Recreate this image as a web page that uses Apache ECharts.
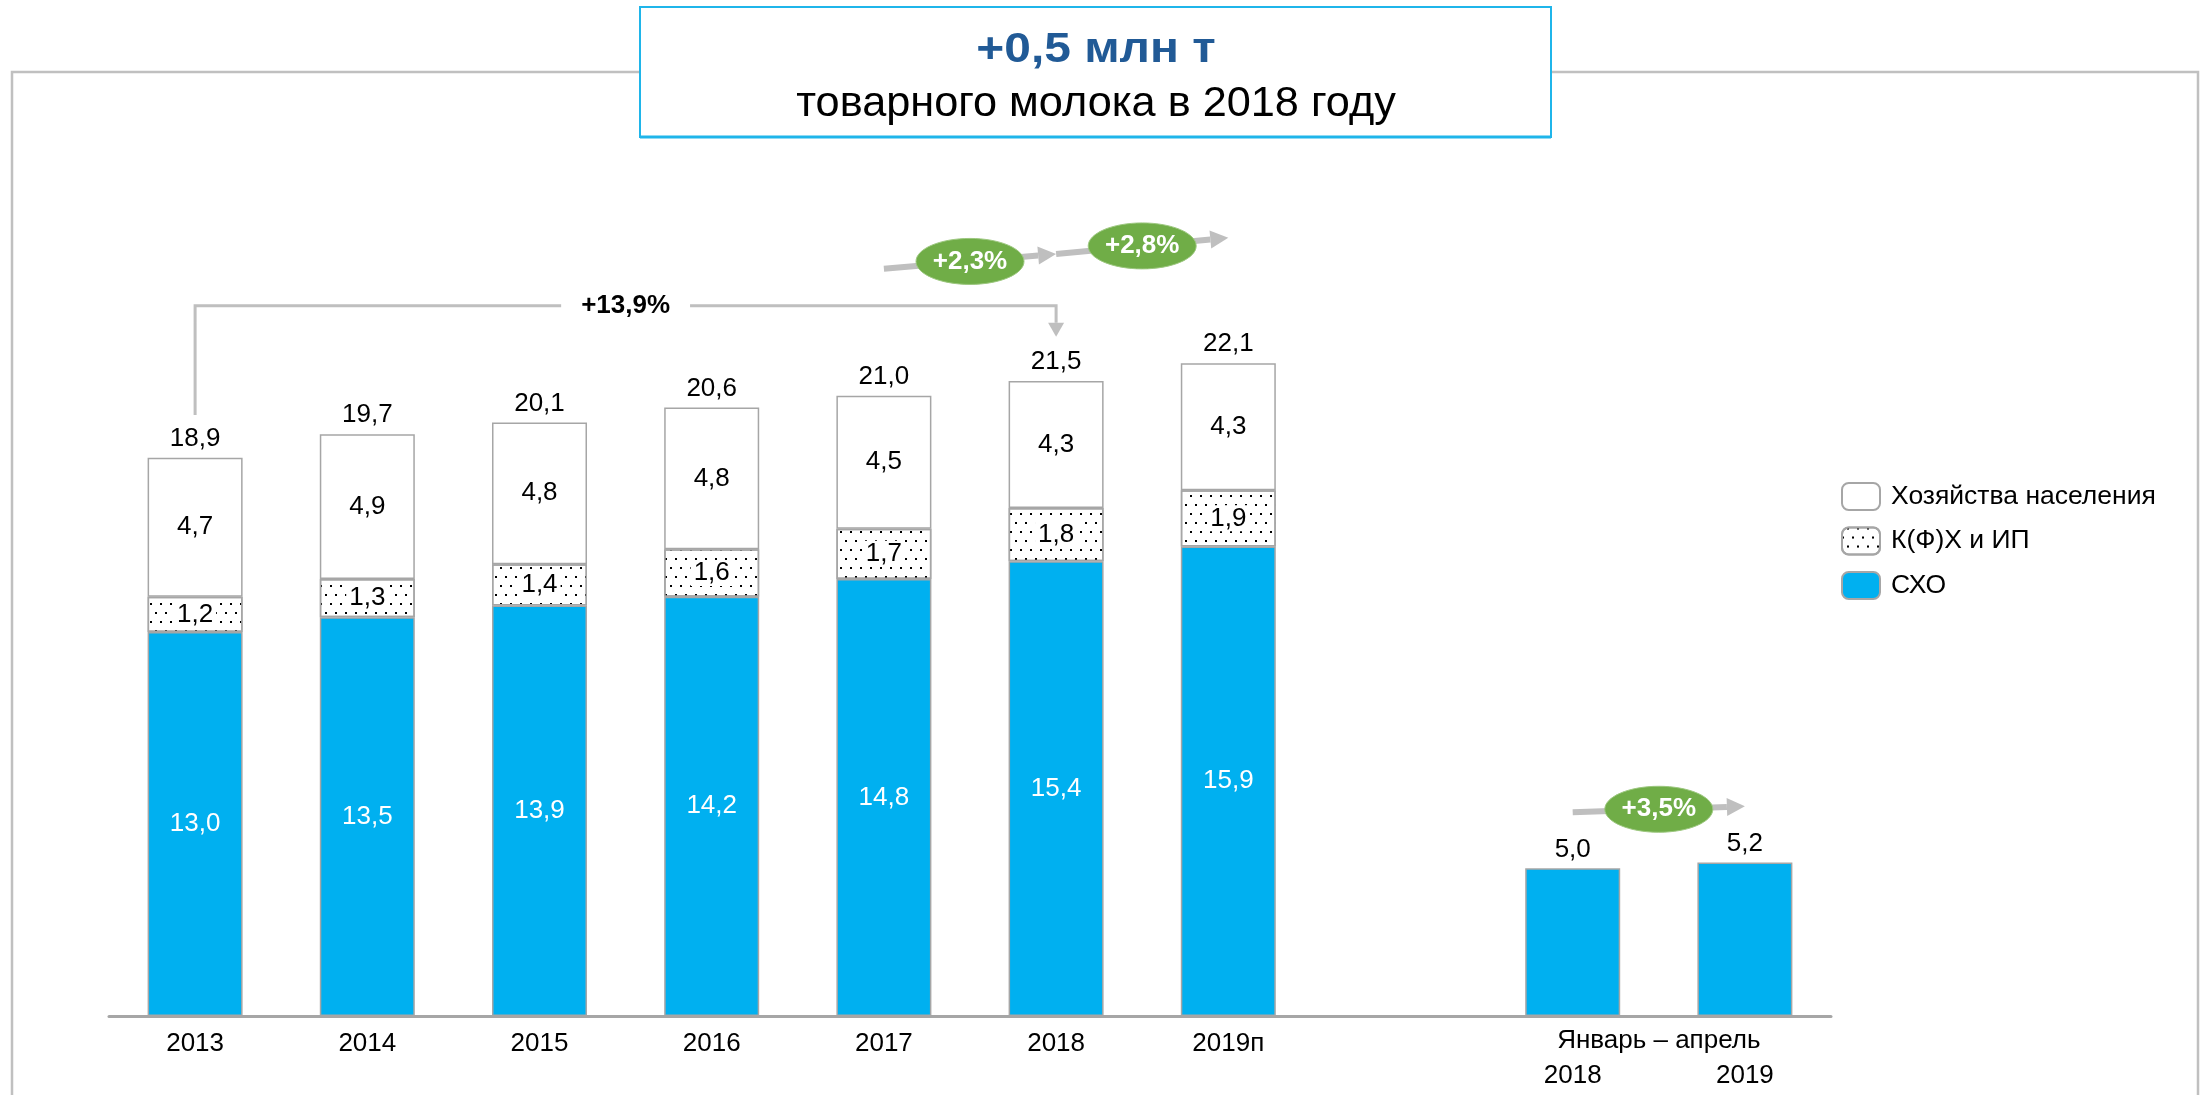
<!DOCTYPE html>
<html>
<head>
<meta charset="utf-8">
<script src="https://cdn.jsdelivr.net/npm/echarts@6/dist/echarts.min.js"></script>
<style>
  html, body { margin: 0; padding: 0; background: #fff; }
  #milkChart { width: 2201px; height: 1095px; }
</style>
</head>
<body>
<div id="milkChart"></div>
<script>
// Data
const years = ['2013', '2014', '2015', '2016', '2017', '2018', '2019п', '', '2018', '2019'];
const agroOrg = [13.0, 13.5, 13.9, 14.2, 14.8, 15.4, 15.9, '-', 5.0, 5.2];
const farms = [1.2, 1.3, 1.4, 1.6, 1.7, 1.8, 1.9, '-', '-', '-'];
const households = [4.7, 4.9, 4.8, 4.8, 4.5, 4.3, 4.3, '-', '-', '-'];
const totals = [18.9, 19.7, 20.1, 20.6, 21.0, 21.5, 22.1, '-', 5.0, 5.2];
const seriesNames = ['Хозяйства населения', 'К(Ф)Х и ИП', 'СХО'];
const periodLabel = 'Январь – апрель';

// growth arrows: from/to category index, start/end height in chart units
const growthNotes = [
    { from: 4, to: 5, y0: 25.3, y1: 25.8, text: '+2,3%' },
    { from: 5, to: 6, y0: 25.8, y1: 26.35, text: '+2,8%' },
    { from: 8, to: 9, y0: 6.9, y1: 7.1, text: '+3,5%' }
];
const bracketNote = { from: 0, to: 5, yStart: 20.35, yLevel: 24.05, yEnd: 23.0, text: '+13,9%' };

const FONT = 'Liberation Sans, Arial, sans-serif';
const fmt = v => Number(v).toFixed(1).replace('.', ',');

const milkCtx = echarts.init(document.getElementById('milkChart'));

var option = {
    animation: false,
    textStyle: { fontFamily: FONT },
    grid: {
        left: 109,
        right: 370,
        top: 130,
        bottom: 79
    },
    legend: {
        data: seriesNames,
        orient: 'vertical',
        left: 1841,
        top: 482,
        padding: 0,
        itemWidth: 38,
        itemHeight: 27,
        itemGap: 15.5,
        textStyle: { fontSize: 26.5, lineHeight: 27, color: '#000', fontFamily: FONT, padding: [0, 0, 0, 6] }
    },
    xAxis: {
        type: 'category',
        data: years,
        axisTick: { show: false },
        axisLine: { lineStyle: { color: '#A6A6A6', width: 3 } },
        axisLabel: {
            interval: 0,
            margin: 12,
            fontSize: 26,
            lineHeight: 32,
            color: '#000',
            formatter: (v, i) => (i >= 8 ? '\n' + v : v)
        }
    },
    yAxis: {
        type: 'value',
        min: 0,
        max: 30,
        show: false,
        splitLine: { show: false }
    },
    series: [
        {
            name: 'СХО',
            type: 'bar',
            stack: 'milk',
            barWidth: 95,
            data: agroOrg,
            itemStyle: { color: '#00B0F0', borderColor: '#A6A6A6', borderWidth: 1.5 },
            label: {
                show: true,
                position: 'inside',
                color: '#fff',
                fontSize: 26,
                formatter: p => (p.dataIndex < 7 ? fmt(p.value) : '')
            }
        },
        {
            name: 'К(Ф)Х и ИП',
            type: 'bar',
            stack: 'milk',
            data: farms,
            itemStyle: {
                color: '#fff',
                borderColor: '#A6A6A6',
                borderWidth: 1.5,
                decal: {
                    symbol: 'rect',
                    symbolSize: 1,
                    color: '#000',
                    dashArrayX: [[2, 8], [0, 5, 2, 3]],
                    dashArrayY: [2, 7],
                    rotation: 0
                }
            },
            label: {
                show: true,
                position: 'inside',
                color: '#000',
                fontSize: 26,
                backgroundColor: '#fff',
                padding: [0, 3],
                formatter: p => fmt(p.value)
            }
        },
        {
            name: 'Хозяйства населения',
            type: 'bar',
            stack: 'milk',
            data: households,
            itemStyle: { color: '#fff', borderColor: '#A6A6A6', borderWidth: 1.5 },
            label: {
                show: true,
                position: 'inside',
                color: '#000',
                fontSize: 26,
                formatter: p => fmt(p.value)
            }
        },
        {
            name: 'total',
            type: 'scatter',
            data: totals,
            symbolSize: 0,
            itemStyle: { color: '#000', opacity: 1 },
            label: {
                show: true,
                position: 'top',
                distance: 6,
                color: '#000',
                fontSize: 26,
                formatter: p => fmt(p.value)
            }
        }
    ],
    graphic: [
        // outer frame
        {
            type: 'rect', z: 0, silent: true,
            shape: { x: 12, y: 72, width: 2186, height: 1100 },
            style: { fill: 'none', stroke: '#C0C0C0', lineWidth: 2.5 }
        },
        // header box
        {
            type: 'rect', z: 5, silent: true,
            shape: { x: 640, y: 7, width: 911, height: 130 },
            style: { fill: '#fff', stroke: '#1FB5EA', lineWidth: 2 }
        },
        {
            type: 'line', z: 6, silent: true,
            shape: { x1: 640, y1: 137, x2: 1551, y2: 137 },
            style: { stroke: '#1FB5EA', lineWidth: 3 }
        },
        {
            type: 'text', z: 6, x: 1096, y: 50, scaleX: 1.14,
            style: {
                text: '+0,5 млн т', fill: '#215A96',
                font: 'bold 42px ' + FONT,
                textAlign: 'center', textVerticalAlign: 'middle', align: 'center', verticalAlign: 'middle'
            }
        },
        {
            type: 'text', z: 6, x: 1096, y: 104, scaleX: 1.03,
            style: {
                text: 'товарного молока в 2018 году', fill: '#000',
                font: '42px ' + FONT,
                textAlign: 'center', textVerticalAlign: 'middle', align: 'center', verticalAlign: 'middle'
            }
        }
    ]
};
milkCtx.setOption(option);

// Annotations placed through the chart's own axes
function px(i, v) {
    return milkCtx.convertToPixel({ xAxisIndex: 0, yAxisIndex: 0 }, [i, v]);
}

function arrow(p0, p1, width, headLen, headHalf, color, z) {
    const dx = p1[0] - p0[0], dy = p1[1] - p0[1];
    const len = Math.hypot(dx, dy);
    const ux = dx / len, uy = dy / len;
    const base = [p1[0] - ux * headLen, p1[1] - uy * headLen];
    const nx = -uy, ny = ux;
    return [
        { type: 'line', z: z, silent: true, shape: { x1: p0[0], y1: p0[1], x2: base[0], y2: base[1] }, style: { stroke: color, lineWidth: width } },
        {
            type: 'polygon', z: z, silent: true,
            shape: { points: [p1, [base[0] + nx * headHalf, base[1] + ny * headHalf], [base[0] - nx * headHalf, base[1] - ny * headHalf]] },
            style: { fill: color }
        }
    ];
}

const extra = [];
const GREY = '#BFBFBF';

growthNotes.forEach(n => {
    const p0 = px(n.from, n.y0);
    const p1 = px(n.to, n.y1);
    extra.push(...arrow(p0, p1, 6, 18, 9, GREY, 10));
    const cx = (p0[0] + p1[0]) / 2, cy = (p0[1] + p1[1]) / 2;
    extra.push({
        type: 'ellipse', z: 11, silent: true,
        shape: { cx: cx, cy: cy, rx: 54, ry: 23 },
        style: { fill: '#70AD47', stroke: '#9CC77F', lineWidth: 1 }
    });
    extra.push({
        type: 'text', z: 12, x: cx, y: cy,
        style: {
            text: n.text, fill: '#fff', font: 'bold 26px ' + FONT,
            textAlign: 'center', textVerticalAlign: 'middle', align: 'center', verticalAlign: 'middle'
        }
    });
});

// +13,9% bracket
(function () {
    const b = bracketNote;
    const a = px(b.from, b.yStart);
    const c = px(b.from, b.yLevel);
    const d = px(b.to, b.yLevel);
    const tip = px(b.to, b.yEnd);
    const headLen = 14;
    extra.push({
        type: 'polyline', z: 10, silent: true,
        shape: { points: [a, c, d, [tip[0], tip[1] - headLen]] },
        style: { stroke: GREY, lineWidth: 3, fill: 'none' }
    });
    extra.push({
        type: 'polygon', z: 10, silent: true,
        shape: { points: [tip, [tip[0] - 8, tip[1] - headLen], [tip[0] + 8, tip[1] - headLen]] },
        style: { fill: GREY }
    });
    extra.push({
        type: 'text', z: 11, x: (c[0] + d[0]) / 2, y: c[1],
        style: {
            text: b.text, fill: '#000', font: 'bold 26px ' + FONT,
            backgroundColor: '#fff', padding: [4, 20],
            textAlign: 'center', textVerticalAlign: 'middle', align: 'center', verticalAlign: 'middle'
        }
    });
})();

// period caption under the Jan-Apr bars
(function () {
    const l = px(8, 0), r = px(9, 0);
    extra.push({
        type: 'text', z: 5, x: (l[0] + r[0]) / 2, y: l[1] + 25,
        style: {
            text: periodLabel, fill: '#000', font: '26px ' + FONT,
            textAlign: 'center', textVerticalAlign: 'middle', align: 'center', verticalAlign: 'middle'
        }
    });
})();

milkCtx.setOption({ graphic: option.graphic.concat(extra) });
</script>
</body>
</html>
